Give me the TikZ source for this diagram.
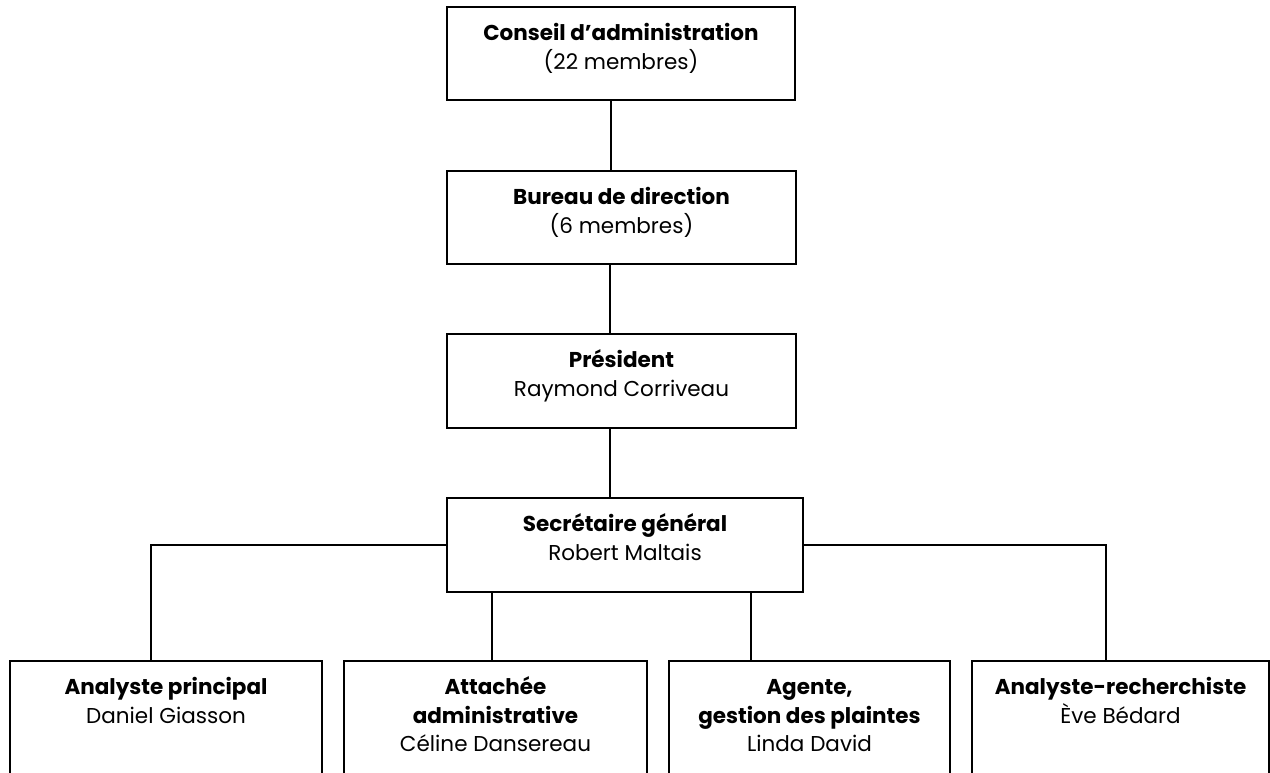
\documentclass[tikz,border=0pt]{standalone}
\usepackage{fontspec}
\setmainfont{Poppins}
\newcommand{\fs}{\rule{0pt}{24pt}}
\begin{document}
\begin{tikzpicture}[x=1pt,y=-1pt,
  box/.style={draw=black, line width=1.3pt, rectangle, inner sep=0pt},
  txt/.style={anchor=north, inner sep=0pt, align=center, font={\fontsize{21.5}{28.5}\selectfont}},
  conn/.style={draw=black, line width=1.3pt}]
\useasboundingbox (0,0) rectangle (1270,773);
\clip (0,0) rectangle (1270,773);
\fill[white] (0,0) rectangle (1270,773);
% boxes
\node[box, minimum width=348pt, minimum height=93pt] (conseil) at (621,53.5) {};
\node[box, minimum width=349pt, minimum height=93pt] (bureau) at (621.5,217.5) {};
\node[box, minimum width=349pt, minimum height=94pt] (pres) at (621.5,381) {};
\node[box, minimum width=356pt, minimum height=94pt] (secr) at (625,545) {};
\node[box, minimum width=312pt, minimum height=130pt] (a) at (166,726) {};
\node[box, minimum width=303pt, minimum height=130pt] (b) at (495.5,726) {};
\node[box, minimum width=281pt, minimum height=130pt] (c) at (809.5,726) {};
\node[box, minimum width=297pt, minimum height=130pt] (d) at (1120.5,726) {};
% texts
\node[txt] (tconseil) at ([yshift=-10pt]conseil.north) {\fs\textbf{Conseil d’administration}\\(22 membres)};
\node[txt] (tbureau) at ([yshift=-10pt]bureau.north) {\fs\textbf{Bureau de direction}\\(6 membres)};
\node[txt] (tpres) at ([yshift=-10pt]pres.north) {\fs\textbf{Président}\\Raymond Corriveau};
\node[txt] (tsecr) at ([yshift=-10pt]secr.north) {\fs\textbf{Secrétaire général}\\Robert Maltais};
\node[txt] (ta) at ([yshift=-10pt]a.north) {\fs\textbf{Analyste principal}\\Daniel Giasson};
\node[txt] (tb) at ([yshift=-10pt]b.north) {\fs\textbf{Attachée}\\\textbf{administrative}\\Céline Dansereau};
\node[txt] (tc) at ([yshift=-10pt]c.north) {\fs\textbf{Agente,}\\\textbf{gestion des plaintes}\\Linda David};
\node[txt] (td) at ([yshift=-10pt]d.north) {\fs\textbf{Analyste-recherchiste}\\Ève Bédard};
% connectors
\draw[conn] (conseil.south -| 611,0) -- (bureau.north -| 611,0);
\draw[conn] (bureau.south -| 610,0) -- (pres.north -| 610,0);
\draw[conn] (pres.south -| 610,0) -- (secr.north -| 610,0);
\draw[conn] (secr.west) -| (a.north -| 151,0);
\draw[conn] (secr.east) -| (d.north -| 1106,0);
\draw[conn] (secr.south -| 492,0) -- (b.north -| 492,0);
\draw[conn] (secr.south -| 751,0) -- (c.north -| 751,0);
\end{tikzpicture}
\end{document}
